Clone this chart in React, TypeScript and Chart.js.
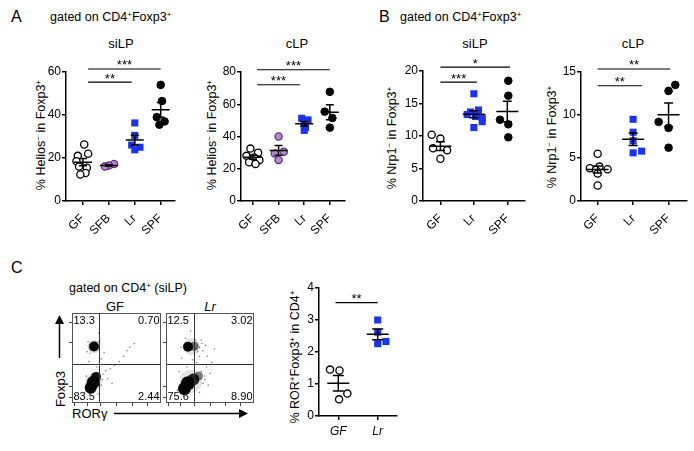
import React, { useEffect, useRef, useState } from 'react';
import { Chart, registerables } from 'chart.js';
Chart.register(...registerables);

const FONT = '"Liberation Sans", Arial, Helvetica, sans-serif';
Chart.defaults.font.family = FONT;

// ---------- Panel A, siLP (Helios- in Foxp3+) ----------
const aSiCats = ['GF', 'SFB', 'Lr', 'SPF'];
const aSiTicks = [0, 20, 40, 60];
const aSiGF = [26.3, 22.0, 21.0, 18.5, 16.0, 15.5, 13.0, 12.3];
const aSiGFJit = [0.05, 0.2, -0.2, -0.25, -0.15, 0.15, 0.1, -0.1];
const aSiSFB = [17.2, 16.5, 16.0];
const aSiSFBJit = [0.2, 0.0, -0.15];
const aSiLr = [36.3, 30.5, 26.0, 25.0, 23.8];
const aSiLrJit = [0.0, 0.0, -0.12, 0.2, 0.0];
const aSiSPF = [54.0, 46.5, 39.0, 37.0, 35.5];
const aSiSPFJit = [0.0, 0.05, -0.15, 0.15, -0.05];
const aSiSig = [
  { a: 0.2, b: 3.0, y: 61.4, label: '***' },
  { a: 0.2, b: 1.88, y: 55.3, label: '**' },
];

// ---------- Panel A, cLP ----------
const aCCats = ['GF', 'SFB', 'Lr', 'SPF'];
const aCTicks = [0, 20, 40, 60, 80];
const aCGF = [32.5, 30.0, 28.0, 27.0, 25.5, 24.0, 23.0];
const aCGFJit = [-0.1, 0.2, -0.25, 0.05, 0.25, -0.15, 0.1];
const aCSFB = [40.0, 30.5, 29.5, 25.5];
const aCSFBJit = [0.0, 0.2, -0.15, 0.0];
const aCLr = [51.3, 50.3, 48.5, 45.5, 43.8];
const aCLrJit = [-0.1, 0.15, 0.0, 0.05, 0.0];
const aCSPF = [67.7, 55.4, 51.5, 45.5];
const aCSPFJit = [0.0, -0.2, 0.1, 0.0];
const aCSig = [
  { a: 0.16, b: 3.0, y: 81.4, label: '***' },
  { a: 0.16, b: 1.83, y: 72.1, label: '***' },
];

// ---------- Panel B, siLP (Nrp1- in Foxp3+) ----------
const bSiCats = ['GF', 'Lr', 'SPF'];
const bSiTicks = [0, 5, 10, 15, 20];
const bSiGF = [10.2, 9.6, 8.1, 7.8, 6.5];
const bSiGFJit = [-0.26, 0.0, -0.22, 0.2, 0.0];
const bSiLr = [16.5, 14.0, 13.7, 13.3, 13.0, 12.8, 12.2, 11.3];
const bSiLrJit = [0.0, 0.14, -0.1, -0.2, 0.05, 0.25, 0.25, 0.0];
const bSiSPF = [18.5, 16.2, 12.5, 11.8, 9.8];
const bSiSPFJit = [0.03, 0.03, -0.22, 0.03, 0.03];
const bSiSig = [
  { a: 0.0, b: 2.08, y: 20.6, label: '*' },
  { a: 0.0, b: 1.09, y: 18.3, label: '***' },
];

// ---------- Panel B, cLP ----------
const bCCats = ['GF', 'Lr', 'SPF'];
const bCTicks = [0, 5, 10, 15];
const bCGF = [5.5, 4.0, 3.8, 3.7, 3.6, 3.2, 1.8];
const bCGFJit = [0.0, 0.05, -0.22, 0.28, -0.05, 0.0, 0.0];
const bCLr = [9.5, 8.0, 7.0, 5.8, 5.6];
const bCLrJit = [0.0, 0.0, 0.0, 0.24, 0.0];
const bCSPF = [13.5, 12.8, 9.2, 8.5, 6.2];
const bCSPFJit = [0.19, 0.0, -0.28, 0.0, 0.0];
const bCSig = [
  { a: 0.0, b: 2.05, y: 15.35, label: '**' },
  { a: 0.0, b: 1.25, y: 13.4, label: '**' },
];

// ---------- Panel C, ROR+Foxp3+ in CD4+ ----------
const cCats = ['GF', 'Lr'];
const cTicks = [0, 1, 2, 3, 4];
const cGF = [1.45, 1.42, 0.7, 0.52];
const cGFJit = [-0.21, 0.03, 0.23, 0.02];
const cLr = [3.0, 2.62, 2.33, 2.26];
const cLrJit = [0.0, 0.0, 0.21, 0.0];
const cSig = [{ a: -0.07, b: 1.0, y: 3.54, label: '**' }];

// ---------- Panel C, flow plots (density clusters: x, y, radius px, density) ----------
const flowTicksX = [3, 17, 32, 50, 68, 85];
const flowTicksY = [6, 18, 67, 90];
const gfQuad = { qx: 30.7, qy: 43.3 };
const gfQuadLabels = ['13.3', '0.70', '83.5', '2.44'];
const gfClusters = [
  { x: 24.7, y: 62.7, r: 6.5, d: 0.15 },
  { x: 24.7, y: 62.7, r: 5, d: 0.97 },
  { x: 24, y: 23, r: 8.5, d: 0.12 },
  { x: 21, y: 17, r: 6, d: 0.97 },
  { x: 24, y: 23, r: 6.5, d: 0.97 },
  { x: 27, y: 29, r: 5, d: 0.92 },
];
const gfEvents = [
  [35, 32], [38, 36], [43, 38], [48, 42], [33, 49], [36, 56], [40, 27], [53, 46],
  [30, 78], [19, 46], [45, 22], [58, 52], [31, 66], [17, 57], [62, 58], [28, 40],
  [31, 60], [30, 68], [18, 68], [20, 55], [33, 20], [34, 26], [14, 12], [16, 30],
  [31, 35], [29, 10], [65, 62], [70, 66],
];
const lrQuad = { qx: 32.2, qy: 43.3 };
const lrQuadLabels = ['12.5', '3.02', '75.6', '8.90'];
const lrClusters = [
  { x: 29, y: 62.5, r: 8.5, d: 0.12 },
  { x: 25, y: 62.5, r: 5, d: 0.97 },
  { x: 32, y: 63, r: 4.5, d: 0.55 },
  { x: 28, y: 24, r: 11.5, d: 0.1 },
  { x: 21, y: 16, r: 6.5, d: 0.97 },
  { x: 25, y: 22, r: 7, d: 0.97 },
  { x: 31, y: 26, r: 6, d: 0.85 },
  { x: 37, y: 30, r: 4.5, d: 0.5 },
];
const lrEvents = [
  [40, 35], [44, 30], [46, 40], [50, 33], [38, 52], [42, 58], [45, 64], [40, 70],
  [18, 50], [22, 72], [52, 45], [48, 20], [15, 35], [35, 45], [55, 60], [28, 80],
  [38, 62], [41, 66], [36, 57], [17, 62], [42, 22], [44, 26], [13, 14], [38, 12],
  [33, 70], [47, 52], [30, 48], [24, 40],
];

type Group = { vals: number[]; jit: number[]; kind: 'open' | 'purple' | 'blue' | 'black' };
type Sig = { a: number; b: number; y: number; label: string };
type Box = { l: number; t: number; w: number; h: number };
type Area = { l: number; t: number; r: number; b: number };

const KIND: Record<string, any> = {
  open: { pointStyle: 'circle', pointRadius: 3.6, backgroundColor: '#ffffff', borderColor: '#000000', borderWidth: 1.3 },
  purple: { pointStyle: 'circle', pointRadius: 3.6, backgroundColor: '#b48bcb', borderColor: '#6a2c82', borderWidth: 1.3 },
  blue: { pointStyle: 'rect', pointRadius: 5, backgroundColor: '#1a33f2', borderColor: '#1a33f2', borderWidth: 0 },
  black: { pointStyle: 'circle', pointRadius: 3.8, backgroundColor: '#000000', borderColor: '#000000', borderWidth: 1 },
};

function zeroPad(s: any) {
  s.paddingLeft = 0; s.paddingRight = 0; s.paddingTop = 0; s.paddingBottom = 0;
}

function makeDotChart(
  canvas: HTMLCanvasElement, box: Box, area: Area, cats: string[], yTicks: number[],
  groups: Group[], sigs: Sig[], xMin: number, xMax: number, meanHalf: number, capHalf: number,
) {
  const yW = 30, xH = 30;
  const extras = {
    id: 'dotExtras',
    afterDatasetsDraw(chart: any) {
      const { ctx, scales } = chart;
      const x = scales.x, y = scales.y;
      ctx.save();
      ctx.strokeStyle = '#000';
      ctx.lineWidth = 1.5;
      groups.forEach((g, i) => {
        const n = g.vals.length;
        const mean = g.vals.reduce((a, b) => a + b, 0) / n;
        const sd = Math.sqrt(g.vals.reduce((a, b) => a + (b - mean) ** 2, 0) / (n - 1));
        const sem = sd / Math.sqrt(n);
        const cx = x.getPixelForValue(i);
        const ym = y.getPixelForValue(mean);
        const yt = y.getPixelForValue(mean + sem);
        const yb = y.getPixelForValue(mean - sem);
        ctx.beginPath();
        ctx.moveTo(cx - meanHalf, ym); ctx.lineTo(cx + meanHalf, ym);
        ctx.moveTo(cx, yt); ctx.lineTo(cx, yb);
        ctx.moveTo(cx - capHalf, yt); ctx.lineTo(cx + capHalf, yt);
        ctx.moveTo(cx - capHalf, yb); ctx.lineTo(cx + capHalf, yb);
        ctx.stroke();
      });
      ctx.lineWidth = 1.2;
      ctx.fillStyle = '#000';
      ctx.font = `13px ${FONT}`;
      ctx.textAlign = 'center';
      ctx.textBaseline = 'alphabetic';
      sigs.forEach((s) => {
        const x1 = x.getPixelForValue(s.a), x2 = x.getPixelForValue(s.b), yy = y.getPixelForValue(s.y);
        ctx.beginPath(); ctx.moveTo(x1, yy); ctx.lineTo(x2, yy); ctx.stroke();
        ctx.fillText(s.label, (x1 + x2) / 2, yy + 0.5);
      });
      ctx.restore();
    },
  };
  const datasets = groups.map((g, i) => ({
    data: g.vals.map((v, k) => ({ x: i + g.jit[k], y: v })),
    clip: false as any,
    ...KIND[g.kind],
  }));
  return new Chart(canvas, {
    type: 'scatter',
    data: { datasets },
    options: {
      animation: false,
      responsive: false,
      devicePixelRatio: 1,
      events: [],
      layout: {
        padding: {
          left: area.l - box.l - yW,
          top: area.t - box.t,
          right: box.l + box.w - area.r,
          bottom: box.t + box.h - area.b - xH,
        },
      },
      plugins: { legend: { display: false }, tooltip: { enabled: false }, title: { display: false } },
      scales: {
        x: {
          type: 'linear', min: xMin, max: xMax,
          afterBuildTicks: (s: any) => { s.ticks = cats.map((_, i) => ({ value: i })); },
          afterFit: (s: any) => { s.height = xH; zeroPad(s); },
          ticks: { display: false, autoSkip: false },
          grid: { drawOnChartArea: false, drawTicks: true, tickLength: 4, color: '#000', lineWidth: 1.5 },
          border: { display: true, color: '#000', width: 1.5 },
        },
        y: {
          type: 'linear', min: 0, max: yTicks[yTicks.length - 1],
          afterBuildTicks: (s: any) => { s.ticks = yTicks.map((v) => ({ value: v })); },
          afterFit: (s: any) => { s.width = yW; zeroPad(s); },
          ticks: { color: '#000', padding: 1, font: { size: 12, family: FONT } },
          grid: { drawOnChartArea: false, drawTicks: true, tickLength: 4, color: '#000', lineWidth: 1.5 },
          border: { display: true, color: '#000', width: 1.5 },
        },
      },
    },
    plugins: [extras],
  } as any);
}

function makeFlowChart(
  canvas: HTMLCanvasElement, box: Box, area: Area,
  clusters: { x: number; y: number; r: number; d: number }[], events: number[][],
  quad: { qx: number; qy: number }, labels: string[],
) {
  const yW = 4, xH = 4;
  const extras = {
    id: 'flowExtras',
    afterDatasetsDraw(chart: any) {
      const { ctx, chartArea: ca, scales } = chart;
      ctx.save();
      ctx.strokeStyle = '#333';
      ctx.lineWidth = 1;
      const qx = Math.round(scales.x.getPixelForValue(quad.qx)) + 0.5;
      const qy = Math.round(scales.y.getPixelForValue(quad.qy)) + 0.5;
      ctx.beginPath();
      ctx.moveTo(qx, ca.top); ctx.lineTo(qx, ca.bottom);
      ctx.moveTo(ca.left, qy); ctx.lineTo(ca.right, qy);
      ctx.stroke();
      ctx.strokeStyle = '#555';
      ctx.strokeRect(ca.left + 0.5, ca.top + 0.5, ca.right - ca.left - 1, ca.bottom - ca.top - 1);
      ctx.fillStyle = '#000';
      ctx.font = `11px ${FONT}`;
      ctx.textBaseline = 'middle';
      ctx.textAlign = 'left';
      ctx.fillText(labels[0], ca.left + 1.5, ca.top + 8);
      ctx.fillText(labels[2], ca.left + 1.5, ca.bottom - 6);
      ctx.textAlign = 'right';
      ctx.fillText(labels[1], ca.right - 1.5, ca.top + 8);
      ctx.fillText(labels[3], ca.right - 1.5, ca.bottom - 6);
      ctx.restore();
    },
  };
  return new Chart(canvas, {
    type: 'bubble',
    data: {
      datasets: [
        {
          data: events.map(([x, y]) => ({ x, y, r: 0.8 })),
          backgroundColor: 'rgba(0,0,0,0.5)', borderWidth: 0,
        },
        {
          data: clusters.map((c) => ({ ...c })),
          backgroundColor: (c: any) => `rgba(0,0,0,${c.raw ? c.raw.d : 1})`,
          borderWidth: 0,
        },
      ],
    },
    options: {
      animation: false,
      responsive: false,
      devicePixelRatio: 1,
      events: [],
      layout: {
        padding: {
          left: area.l - box.l - yW,
          top: area.t - box.t,
          right: box.l + box.w - area.r,
          bottom: box.t + box.h - area.b - xH,
        },
      },
      plugins: { legend: { display: false }, tooltip: { enabled: false } },
      scales: {
        x: {
          type: 'linear', min: 0, max: 100,
          afterBuildTicks: (s: any) => { s.ticks = flowTicksX.map((v) => ({ value: v })); },
          afterFit: (s: any) => { s.height = xH; zeroPad(s); },
          ticks: { display: false },
          grid: { drawOnChartArea: false, drawTicks: true, tickLength: 3, color: '#444', lineWidth: 1 },
          border: { display: false },
        },
        y: {
          type: 'linear', min: 0, max: 100,
          afterBuildTicks: (s: any) => { s.ticks = flowTicksY.map((v) => ({ value: v })); },
          afterFit: (s: any) => { s.width = yW; zeroPad(s); },
          ticks: { display: false },
          grid: { drawOnChartArea: false, drawTicks: true, tickLength: 3, color: '#444', lineWidth: 1 },
          border: { display: false },
        },
      },
    },
    plugins: [extras],
  } as any);
}

function ChartCanvas({ box, make }: { box: Box; make: (c: HTMLCanvasElement) => Chart }) {
  const ref = useRef<HTMLCanvasElement>(null);
  useEffect(() => {
    const chart = make(ref.current as HTMLCanvasElement);
    return () => chart.destroy();
  }, []);
  return (
    <canvas
      ref={ref}
      width={box.w}
      height={box.h}
      style={{ position: 'absolute', left: box.l, top: box.t, width: box.w, height: box.h }}
    />
  );
}

type DotProps = {
  box: Box; area: Area; cats: string[]; yTicks: number[]; groups: Group[]; sigs: Sig[];
  xMin: number; xMax: number; rotated: boolean; meanHalf: number; capHalf: number;
};

// Dot plot; its category labels are placed at the pixel positions the chart's x scale reports.
function DotPanel(p: DotProps) {
  const ref = useRef<HTMLCanvasElement>(null);
  const [pos, setPos] = useState<{ x: number; y: number }[]>([]);
  useEffect(() => {
    const chart = makeDotChart(ref.current as HTMLCanvasElement, p.box, p.area, p.cats, p.yTicks,
      p.groups, p.sigs, p.xMin, p.xMax, p.meanHalf, p.capHalf);
    const xs: any = chart.scales.x;
    setPos(p.cats.map((_, i) => ({ x: p.box.l + xs.getPixelForValue(i), y: p.box.t + chart.chartArea.bottom })));
    return () => chart.destroy();
  }, []);
  const { box } = p;
  return (
    <>
      <canvas
        ref={ref}
        width={box.w}
        height={box.h}
        style={{ position: 'absolute', left: box.l, top: box.t, width: box.w, height: box.h }}
      />
      {pos.map((q, i) => (
        <div
          key={i}
          style={{
            position: 'absolute', left: p.rotated ? q.x - 0.5 : q.x, top: q.y + 15,
            fontSize: 12, lineHeight: 1, fontFamily: FONT, whiteSpace: 'nowrap', color: '#000',
            fontStyle: p.rotated ? 'normal' : 'italic',
            transformOrigin: p.rotated ? '100% 50%' : '50% 50%',
            transform: p.rotated ? 'translate(-100%,-50%) rotate(-45deg)' : 'translate(-50%,-50%)',
          }}
        >
          {p.cats[i]}
        </div>
      ))}
    </>
  );
}

function Sup({ children }: { children: React.ReactNode }) {
  return (
    <span style={{ fontSize: '0.65em', position: 'relative', top: '-0.5em' }}>{children}</span>
  );
}

function T({
  x, y, size = 13, anchor = 'left', rotate = false, italic = false, children,
}: {
  x: number; y: number; size?: number; anchor?: 'left' | 'center'; rotate?: boolean; italic?: boolean;
  children: React.ReactNode;
}) {
  let transform = anchor === 'center' ? 'translate(-50%,-50%)' : 'translate(0,-50%)';
  if (rotate) transform = 'translate(-50%,-50%) rotate(-90deg)';
  return (
    <div
      style={{
        position: 'absolute', left: x, top: y, fontSize: size, lineHeight: 1, fontFamily: FONT,
        whiteSpace: 'nowrap', fontStyle: italic ? 'italic' : 'normal', color: '#000', transform,
      }}
    >
      {children}
    </div>
  );
}

const boxASi: Box = { l: 0, t: 40, w: 180, h: 200 };
const areaASi: Area = { l: 66, t: 72, r: 175, b: 201 };
const boxAC: Box = { l: 180, t: 40, w: 170, h: 200 };
const areaAC: Area = { l: 241, t: 72, r: 345, b: 201 };
const boxBSi: Box = { l: 350, t: 40, w: 180, h: 200 };
const areaBSi: Area = { l: 423, t: 71, r: 527, b: 201 };
const boxBC: Box = { l: 525, t: 40, w: 169, h: 200 };
const areaBC: Area = { l: 581, t: 72, r: 687, b: 201 };
const boxC: Box = { l: 260, t: 270, w: 150, h: 175 };
const areaC: Area = { l: 319, t: 288, r: 397, b: 416 };
const areaGF: Area = { l: 72, t: 313, r: 161, b: 403 };
const boxGF: Box = { l: 48, t: 293, w: 133, h: 134 };
const areaLr: Area = { l: 166, t: 313, r: 254, b: 403 };
const boxLr: Box = { l: 142, t: 293, w: 132, h: 134 };

export default function App() {
  return (
    <div
      style={{
        position: 'absolute', left: 0, top: 0, width: 694, height: 451, background: '#fff',
        overflow: 'hidden', fontFamily: FONT,
      }}
    >
      {/* Panel letters and headers */}
      <T x={11} y={17} size={16}>A</T>
      <T x={50} y={17} size={12.5}>gated on CD4<Sup>+</Sup>Foxp3<Sup>+</Sup></T>
      <T x={379} y={17} size={16}>B</T>
      <T x={400} y={17} size={12.5}>gated on CD4<Sup>+</Sup>Foxp3<Sup>+</Sup></T>
      <T x={11} y={268} size={16}>C</T>
      <T x={69} y={288} size={12.5}>gated on CD4<Sup>+</Sup> (siLP)</T>

      {/* Titles */}
      <T x={121} y={43} anchor="center">siLP</T>
      <T x={297} y={43} anchor="center">cLP</T>
      <T x={475} y={43} anchor="center">siLP</T>
      <T x={633} y={43} anchor="center">cLP</T>

      {/* Y axis titles */}
      <T x={41} y={135} size={12.5} rotate>% Helios<Sup>−</Sup> in Foxp3<Sup>+</Sup></T>
      <T x={212} y={135} size={12.5} rotate>% Helios<Sup>−</Sup> in Foxp3<Sup>+</Sup></T>
      <T x={392} y={138} size={12.5} rotate>% Nrp1<Sup>−</Sup> in Foxp3<Sup>+</Sup></T>
      <T x={552} y={137} size={12.5} rotate>% Nrp1<Sup>−</Sup> in Foxp3<Sup>+</Sup></T>
      <T x={295} y={357} size={12.5} rotate>% ROR<Sup>+</Sup>Foxp3<Sup>+</Sup> in CD4<Sup>+</Sup></T>

      {/* Flow plot labels */}
      <T x={115} y={306} anchor="center">GF</T>
      <T x={210} y={306} anchor="center" italic>Lr</T>
      <T x={60} y={389} size={13} rotate>Foxp3</T>
      <T x={72} y={413} size={13}>RORγ</T>

      <DotPanel box={boxASi} area={areaASi} cats={aSiCats} yTicks={aSiTicks} groups={[
        { vals: aSiGF, jit: aSiGFJit, kind: 'open' },
        { vals: aSiSFB, jit: aSiSFBJit, kind: 'purple' },
        { vals: aSiLr, jit: aSiLrJit, kind: 'blue' },
        { vals: aSiSPF, jit: aSiSPFJit, kind: 'black' },
      ]} sigs={aSiSig} xMin={-0.654} xMax={3.54} rotated meanHalf={9} capHalf={4} />
      <DotPanel box={boxAC} area={areaAC} cats={aCCats} yTicks={aCTicks} groups={[
        { vals: aCGF, jit: aCGFJit, kind: 'open' },
        { vals: aCSFB, jit: aCSFBJit, kind: 'purple' },
        { vals: aCLr, jit: aCLrJit, kind: 'blue' },
        { vals: aCSPF, jit: aCSPFJit, kind: 'black' },
      ]} sigs={aCSig} xMin={-0.467} xMax={3.58} rotated meanHalf={9} capHalf={4} />
      <DotPanel box={boxBSi} area={areaBSi} cats={bSiCats} yTicks={bSiTicks} groups={[
        { vals: bSiGF, jit: bSiGFJit, kind: 'open' },
        { vals: bSiLr, jit: bSiLrJit, kind: 'blue' },
        { vals: bSiSPF, jit: bSiSPFJit, kind: 'black' },
      ]} sigs={bSiSig} xMin={-0.52} xMax={2.52} rotated meanHalf={11} capHalf={4.5} />
      <DotPanel box={boxBC} area={areaBC} cats={bCCats} yTicks={bCTicks} groups={[
        { vals: bCGF, jit: bCGFJit, kind: 'open' },
        { vals: bCLr, jit: bCLrJit, kind: 'blue' },
        { vals: bCSPF, jit: bCSPFJit, kind: 'black' },
      ]} sigs={bCSig} xMin={-0.47} xMax={2.52} rotated meanHalf={11} capHalf={4.5} />
      <DotPanel box={boxC} area={areaC} cats={cCats} yTicks={cTicks} groups={[
        { vals: cGF, jit: cGFJit, kind: 'open' },
        { vals: cLr, jit: cLrJit, kind: 'blue' },
      ]} sigs={cSig} xMin={-0.49} xMax={1.49} rotated={false} meanHalf={11} capHalf={5.5} />
      <ChartCanvas box={boxGF} make={(c) => makeFlowChart(c, boxGF, areaGF, gfClusters, gfEvents, gfQuad, gfQuadLabels)} />
      <ChartCanvas box={boxLr} make={(c) => makeFlowChart(c, boxLr, areaLr, lrClusters, lrEvents, lrQuad, lrQuadLabels)} />

      {/* Axis arrows for flow plots */}
      <svg width={694} height={451} style={{ position: 'absolute', left: 0, top: 0, pointerEvents: 'none' }}>
        <line x1={59.5} y1={358} x2={59.5} y2={322} stroke="#000" strokeWidth={1.5} />
        <polygon points="55,324 64,324 59.5,315" fill="#000" />
        <line x1={114} y1={413.5} x2={240} y2={413.5} stroke="#000" strokeWidth={1.5} />
        <polygon points="239,409 239,418 248,413.5" fill="#000" />
      </svg>
    </div>
  );
}
